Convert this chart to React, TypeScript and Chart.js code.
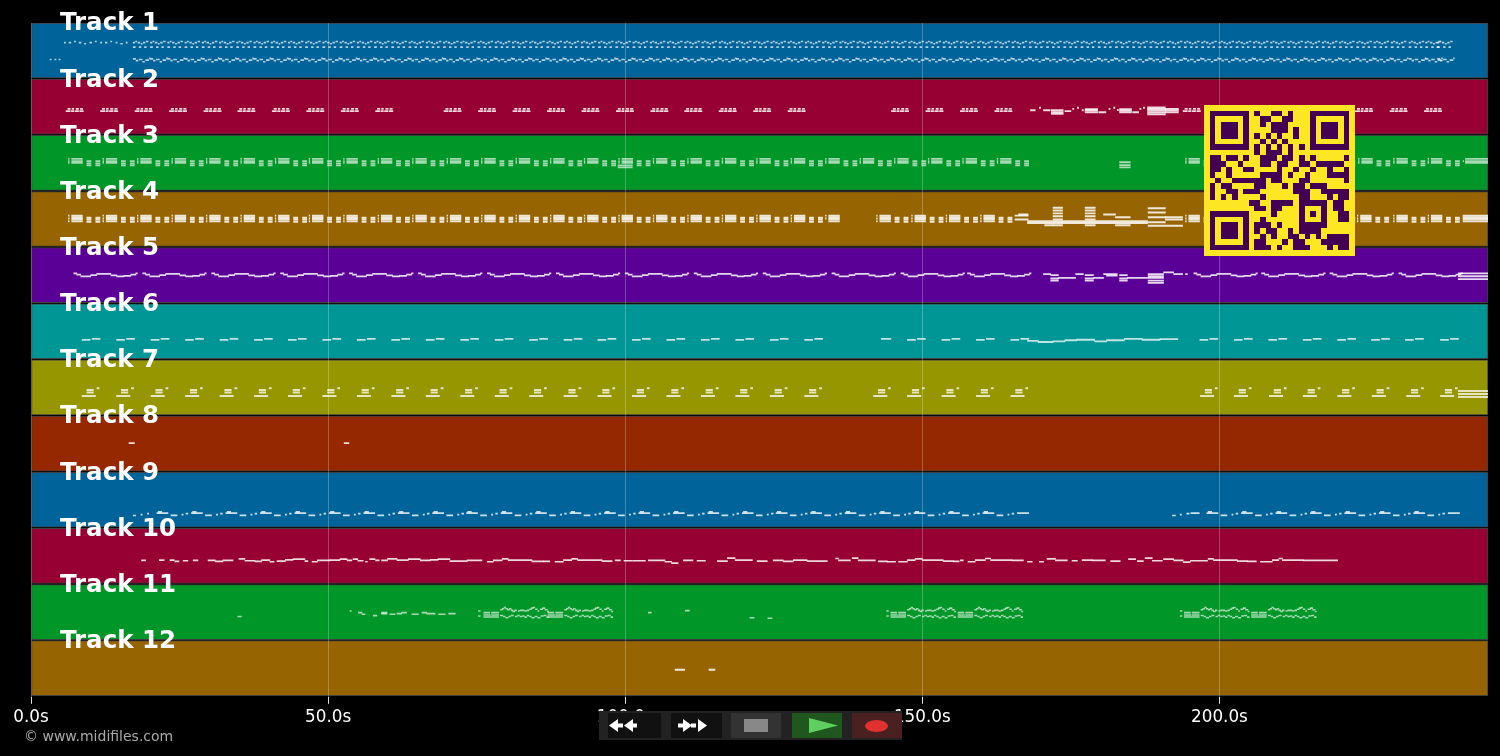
import { useEffect, useRef } from "react";
import { Chart, registerables } from "chart.js";

Chart.register(...registerables);

type Note = number[]; // [start s, end s, height inside the lane]

const trackNames = ["Track 1", "Track 2", "Track 3", "Track 4", "Track 5", "Track 6", "Track 7", "Track 8", "Track 9", "Track 10", "Track 11", "Track 12"];
const trackColors = ["#00649b", "#960032", "#009628", "#966400", "#5a0096", "#009696", "#969600", "#962800", "#00649b", "#960032", "#009628", "#966400"];
const noteAlphas = [0.7, 0.85, 0.65, 0.85, 0.85, 0.75, 0.75, 0.85, 0.8, 0.85, 0.65, 0.85];
const noteThickness = [1, 1.2, 1.2, 1.3, 1.1, 1.2, 1.2, 1.2, 1, 1, 0.9, 1.2];
const timeTicks = [0, 50, 100, 150, 200];
const songEnd = 245.2;

// the song is built from loops, so each track = a loop + where it was played + the odd notes
const track1Starts = [17.2, 20.1, 23.0, 25.9, 28.8, 31.7, 34.6, 37.5, 40.4, 43.3, 46.2, 49.1, 52.0, 54.9, 57.8, 60.7, 63.6, 66.5, 69.4, 72.3, 75.2, 78.1, 81.0, 83.9, 86.8, 89.7, 92.6, 95.5, 98.4, 101.3, 104.2, 107.1, 110.0, 112.9, 115.8, 118.7, 121.6, 124.5, 127.4, 130.3, 133.2, 136.1, 139.0, 141.9, 144.8, 147.7, 150.6, 153.5, 156.4, 159.3, 162.2, 165.1, 168.0, 170.9, 173.8, 176.7, 179.6, 182.5, 185.4, 188.3, 191.2, 194.1, 197.0, 199.9, 202.8, 205.7, 208.6, 211.5, 214.4, 217.3, 220.2, 223.1, 226.0, 228.9, 231.9, 234.7, 236.7];
const track1Loop = [[0, 0.25, 0.35], [0.4, 0.6, 0.33], [0.8, 1.1, 0.35], [1.3, 1.5, 0.37], [1.7, 2.0, 0.35], [2.2, 2.5, 0.33], [0, 0.35, 0.43], [1.0, 1.3, 0.43], [1.9, 2.2, 0.43], [0, 0.4, 0.64], [0.5, 0.8, 0.67], [1.0, 1.5, 0.65], [1.6, 1.9, 0.69], [2.1, 2.6, 0.66], [2.7, 2.85, 0.63]];
const track1Extra = [[3.2, 3.4, 0.65], [4.0, 4.2, 0.65], [4.7, 4.9, 0.65], [5.6, 5.8, 0.35], [6.4, 6.7, 0.35], [7.3, 7.5, 0.33], [8.1, 8.4, 0.35], [9.0, 9.2, 0.37], [9.9, 10.2, 0.35], [10.8, 11.0, 0.33], [11.7, 11.9, 0.35], [12.5, 12.8, 0.35], [13.4, 13.6, 0.33], [14.3, 14.5, 0.35], [15.1, 15.4, 0.37], [16.0, 16.2, 0.35]];

const track2Starts = [5.9, 11.7, 17.5, 23.3, 29.1, 34.8, 40.6, 46.4, 52.2, 58.0, 69.5, 75.3, 81.1, 86.9, 92.7, 98.5, 104.3, 110.0, 115.8, 121.6, 127.4, 144.8, 150.6, 156.4, 162.2, 193.9, 199.7, 205.5, 211.3, 217.1, 222.9, 228.7, 234.5];
const track2Loop = [[0, 0.7, 0.57], [0.3, 0.7, 0.53], [0.9, 1.3, 0.57], [1.0, 1.3, 0.53], [1.5, 2.1, 0.57], [1.7, 2.1, 0.53], [2.3, 2.9, 0.57], [2.4, 2.8, 0.53]];
const track2Extra = [[168.2, 169.0, 0.554], [169.7, 169.9, 0.51], [170.4, 171.5, 0.554], [171.7, 173.7, 0.554], [171.7, 173.7, 0.589], [171.7, 173.7, 0.616], [174.0, 175.0, 0.57], [175.3, 175.5, 0.53], [176.1, 176.3, 0.51], [176.9, 177.1, 0.554], [177.4, 179.5, 0.536], [177.4, 179.5, 0.554], [177.4, 179.5, 0.589], [179.7, 180.9, 0.59], [181.4, 181.6, 0.53], [182.2, 182.4, 0.51], [182.8, 183.0, 0.55], [183.2, 185.2, 0.536], [183.2, 185.2, 0.56], [183.2, 185.2, 0.59], [185.4, 186.4, 0.59], [186.6, 186.8, 0.53], [187.2, 187.4, 0.51], [187.9, 190.9, 0.505], [187.9, 190.9, 0.53], [187.9, 190.9, 0.554], [187.9, 190.9, 0.59], [187.9, 190.9, 0.625], [190.9, 193.1, 0.53], [190.9, 193.1, 0.554], [190.9, 193.1, 0.59]];

const track3Starts = [6.3, 12.1, 17.9, 23.7, 29.5, 35.3, 41.1, 46.8, 52.6, 58.4, 64.2, 70.0, 75.8, 81.6, 87.4, 93.1, 98.9, 104.7, 110.5, 116.3, 122.1, 127.9, 133.7, 139.5, 145.3, 151.0, 156.8, 162.6, 194.3, 200.1, 205.9, 211.7, 217.5, 223.4, 229.3, 235.1];
const track3Loop = [[0, 0.12, 0.42], [0, 0.12, 0.46], [0, 0.12, 0.49], [0.55, 2.35, 0.42], [0.55, 2.35, 0.46], [0.55, 2.35, 0.49], [3.1, 3.8, 0.46], [3.1, 3.8, 0.5], [3.1, 3.8, 0.535], [4.6, 5.3, 0.46], [4.6, 5.3, 0.5], [4.6, 5.3, 0.535]];
const track3Extra = [[98.8, 101.2, 0.535], [98.8, 101.2, 0.57], [183.2, 185.0, 0.48], [183.2, 185.0, 0.53], [183.2, 185.0, 0.57], [241.0, 241.1, 0.46], [241.4, songEnd, 0.42], [241.4, songEnd, 0.46], [241.4, songEnd, 0.49]];

const track4Starts = [6.3, 12.1, 17.9, 23.7, 29.5, 35.3, 41.1, 46.8, 52.6, 58.4, 64.2, 70.0, 75.8, 81.6, 87.4, 93.1, 98.9, 104.7, 110.5, 116.3, 122.1, 127.9, 142.3, 148.2, 154.0, 159.8, 194.3, 200.1, 205.9, 211.7, 217.5, 223.2, 229.3, 235.1];
const track4Loop = [[0, 0.12, 0.43], [0, 0.12, 0.48], [0, 0.12, 0.53], [0.55, 2.35, 0.43], [0.55, 2.35, 0.46], [0.55, 2.35, 0.49], [0.55, 2.35, 0.53], [3.1, 3.8, 0.47], [3.1, 3.8, 0.5], [3.1, 3.8, 0.54], [4.6, 5.3, 0.47], [4.6, 5.3, 0.5], [4.6, 5.3, 0.54]];
const track4Extra = [[133.7, 133.82, 0.43], [133.7, 133.82, 0.48], [134.25, 136.05, 0.43], [134.25, 136.05, 0.46], [134.25, 136.05, 0.49], [134.25, 136.05, 0.53], [165.6, 167.8, 0.43], [165.6, 167.8, 0.5], [166.2, 167.8, 0.41], [167.7, 187.9, 0.53], [167.7, 187.9, 0.56], [172.0, 173.6, 0.29], [172.0, 173.6, 0.34], [172.0, 173.6, 0.39], [172.0, 173.6, 0.44], [172.0, 173.6, 0.5], [172.0, 173.6, 0.6], [170.6, 172.0, 0.6], [177.4, 179.1, 0.29], [177.4, 179.1, 0.34], [177.4, 179.1, 0.39], [177.4, 179.1, 0.44], [177.4, 179.1, 0.5], [177.4, 179.1, 0.6], [180.5, 182.5, 0.41], [182.5, 185.0, 0.46], [182.5, 185.0, 0.6], [188.0, 190.9, 0.3], [188.0, 190.9, 0.375], [188.0, 190.9, 0.46], [188.0, 190.9, 0.55], [188.0, 193.8, 0.61], [190.9, 193.8, 0.46], [190.9, 193.8, 0.5], [241.0, songEnd, 0.43], [241.0, songEnd, 0.46], [241.0, songEnd, 0.49], [241.0, songEnd, 0.53]];

const track5Starts = [7.2, 18.8, 30.4, 42.0, 53.6, 65.2, 76.8, 88.4, 100.0, 111.6, 123.2, 134.8, 146.4, 157.6, 195.7, 207.1, 218.6, 230.2];
const track5Loop = [[0, 0.5, 0.459], [0.5, 1.18, 0.482], [1.18, 2.86, 0.513], [2.86, 3.87, 0.491], [3.87, 6.23, 0.468], [6.23, 7.24, 0.495], [7.24, 8.42, 0.513], [8.42, 9.6, 0.505], [9.6, 10.44, 0.482], [10.44, 10.7, 0.459]];
const track5Extra = [[170.4, 171.6, 0.47], [171.6, 172.9, 0.49], [171.6, 172.9, 0.55], [171.6, 172.9, 0.59], [172.9, 175.8, 0.54], [175.8, 177.1, 0.47], [177.4, 178.8, 0.49], [177.4, 178.8, 0.55], [177.4, 178.8, 0.59], [178.8, 180.5, 0.54], [180.5, 182.8, 0.47], [181.0, 182.8, 0.5], [183.2, 184.5, 0.49], [183.2, 184.5, 0.55], [183.2, 184.5, 0.59], [184.5, 187.9, 0.54], [188.0, 190.6, 0.47], [188.0, 190.6, 0.51], [188.0, 190.6, 0.54], [188.0, 190.6, 0.59], [188.0, 190.6, 0.63], [190.6, 192.3, 0.44], [192.3, 193.8, 0.47], [194.3, 194.6, 0.47], [240.2, songEnd, 0.46], [240.2, songEnd, 0.51], [240.2, songEnd, 0.56]];

const track6Starts = [8.6, 14.4, 20.2, 26.0, 31.8, 37.6, 43.3, 49.1, 54.9, 60.7, 66.5, 72.3, 78.1, 83.9, 89.7, 95.4, 101.2, 107.0, 112.8, 118.6, 124.4, 130.2, 147.5, 153.3, 159.1, 164.9, 196.7, 202.5, 208.3, 214.1, 219.9, 225.6, 231.3, 237.2];
const track6Loop = [[0, 1.35, 0.643], [1.68, 3.03, 0.625]];
const track6Extra = [[143.1, 144.7, 0.625], [167.7, 169.5, 0.66], [169.5, 172.0, 0.68], [172.0, 174.0, 0.67], [174.0, 176.0, 0.65], [176.0, 179.0, 0.64], [179.0, 181.0, 0.67], [181.0, 184.0, 0.65], [184.0, 187.0, 0.625], [187.0, 190.0, 0.64], [190.0, 193.0, 0.63]];

const track7Starts = [8.6, 14.4, 20.2, 26.0, 31.8, 37.6, 43.3, 49.1, 54.9, 60.7, 66.5, 72.3, 78.1, 83.9, 89.7, 95.4, 101.2, 107.0, 112.8, 118.6, 124.4, 130.2, 141.8, 147.5, 153.3, 159.1, 164.9, 196.8, 202.5, 208.4, 214.1, 219.9, 225.7, 231.5, 237.2];
const track7Loop = [[0, 2.25, 0.643], [0.8, 1.9, 0.536], [0.8, 1.9, 0.58], [2.5, 2.85, 0.505]];
const track7Extra = [[240.2, songEnd, 0.554], [240.2, songEnd, 0.607], [240.2, songEnd, 0.66]];

const track8Notes = [[16.5, 17.4, 0.482], [52.7, 53.5, 0.482]];

const track9Starts = [21.2, 27.0, 32.8, 38.6, 44.4, 50.2, 56.0, 61.8, 67.6, 73.3, 79.1, 84.9, 90.7, 96.5, 102.3, 108.1, 113.9, 119.7, 125.4, 131.2, 137.0, 142.8, 148.6, 154.4, 160.2, 197.9, 203.7, 209.5, 215.3, 221.1, 226.9, 232.7];
const track9Loop = [[0, 1.85, 0.727], [0.2, 0.8, 0.705], [2.36, 3.37, 0.768], [4.2, 4.4, 0.755], [4.9, 5.2, 0.737]];
const track9Extra = [[17.2, 17.6, 0.77], [18.5, 18.7, 0.755], [19.6, 19.8, 0.737], [166.0, 167.9, 0.727], [192.1, 192.6, 0.77], [193.4, 193.6, 0.755], [194.5, 194.9, 0.737], [195.2, 196.6, 0.727], [238.5, 240.4, 0.727]];

const track10Notes = [
  [18.6, 19.3, 0.571], [21.6, 22.4, 0.565], [23.4, 24.1, 0.565], [24.2, 24.9, 0.589], [25.6, 26.4, 0.577], [27.3, 28.1, 0.571], [29.8, 31.0, 0.571], [31.0, 32.3, 0.589], [32.3, 34.0, 0.571], [35.0, 36.0, 0.542], [36.0, 37.7, 0.577], [37.7, 38.8, 0.589], [38.8, 40.2, 0.565], [40.2, 40.9, 0.595], [41.4, 42.8, 0.583], [42.8, 44.1, 0.56], [44.1, 46.1, 0.548], [46.1, 46.6, 0.583], [47.3, 48.2, 0.595], [48.2, 50.3, 0.571], [50.3, 52.0, 0.565], [52.0, 53.2, 0.548], [53.2, 54.0, 0.571], [54.2, 55.0, 0.548], [55.0, 55.9, 0.577], [56.3, 56.6, 0.595], [57.0, 57.9, 0.548], [58.0, 58.6, 0.571], [59.0, 60.0, 0.571], [60.0, 61.6, 0.542], [61.6, 63.5, 0.565], [63.5, 65.5, 0.548], [65.5, 67.2, 0.571], [67.2, 68.5, 0.56], [68.5, 70.5, 0.548], [70.5, 73.4, 0.583], [73.4, 75.9, 0.571], [76.8, 77.8, 0.595], [77.8, 79.3, 0.571], [79.3, 80.3, 0.542], [80.3, 84.3, 0.565], [84.3, 86.2, 0.589], [86.2, 87.3, 0.589],
  [88.2, 89.6, 0.595], [89.6, 91.0, 0.565], [91.0, 92.0, 0.542], [92.0, 96.1, 0.565], [96.1, 97.8, 0.583], [98.3, 99.2, 0.571], [99.8, 101.2, 0.577], [101.3, 103.4, 0.577], [103.9, 106.7, 0.571], [106.7, 107.8, 0.595], [107.8, 108.9, 0.62], [109.8, 111.4, 0.571], [112.1, 113.5, 0.577], [115.5, 117.2, 0.583], [117.2, 118.5, 0.53], [118.5, 121.4, 0.565], [122.2, 123.9, 0.583], [124.9, 126.6, 0.571], [126.6, 128.3, 0.589], [128.3, 130.6, 0.565], [130.6, 134.0, 0.583], [135.4, 135.9, 0.536], [135.9, 137.9, 0.571], [138.2, 139.2, 0.53], [139.2, 142.1, 0.571], [142.6, 144.1, 0.589], [144.1, 145.5, 0.595], [146.0, 147.5, 0.595], [147.5, 148.8, 0.565], [148.8, 150.0, 0.542], [150.0, 153.5, 0.565], [153.5, 155.2, 0.583], [155.2, 156.2, 0.589],
  [156.4, 156.9, 0.571], [157.7, 158.9, 0.595], [158.9, 160.6, 0.565], [160.6, 161.5, 0.536], [161.5, 165.1, 0.565], [165.1, 167.0, 0.571], [167.7, 168.5, 0.595], [169.7, 170.4, 0.595], [171.0, 172.4, 0.542], [172.4, 174.4, 0.571], [175.2, 176.1, 0.577], [176.9, 178.6, 0.565], [178.6, 180.8, 0.571], [181.7, 183.3, 0.583], [184.7, 185.9, 0.548], [186.2, 187.2, 0.583], [187.5, 188.7, 0.53], [188.7, 190.4, 0.577], [190.6, 192.3, 0.548], [192.3, 193.9, 0.571], [193.9, 195.1, 0.601], [195.1, 198.0, 0.577], [198.1, 199.0, 0.542], [199.0, 203.0, 0.565], [203.0, 204.7, 0.583], [204.7, 206.2, 0.589], [206.9, 208.9, 0.595], [208.9, 210.0, 0.565], [210.0, 210.6, 0.536], [210.6, 214.1, 0.565], [214.1, 219.9, 0.571],
];

const track11Starts = [76.2, 87.0, 144.7, 156.0, 194.1, 205.4];
const track11Loop = [[0, 1.0, 0.5], [1.3, 2.5, 0.5], [0, 1.1, 0.542], [1.3, 2.5, 0.542], [0, 2.5, 0.577], [2.8, 3.1, 0.45], [3.1, 3.4, 0.43], [3.4, 3.7, 0.41], [3.7, 4.0, 0.43], [4.0, 4.3, 0.45], [4.3, 4.6, 0.43], [4.6, 4.9, 0.46], [4.9, 5.2, 0.48], [5.2, 5.5, 0.46], [5.8, 6.0, 0.47], [6.1, 6.4, 0.46], [6.5, 6.8, 0.46], [6.9, 7.2, 0.47], [7.3, 7.6, 0.46], [7.7, 8.0, 0.44], [8.0, 8.3, 0.42], [8.3, 8.6, 0.41], [8.7, 9.0, 0.44], [9.1, 9.3, 0.47], [9.5, 9.9, 0.44], [9.9, 10.3, 0.42], [10.3, 10.7, 0.45], [10.7, 10.9, 0.48], [2.8, 3.2, 0.55], [3.3, 3.6, 0.57], [3.7, 4.1, 0.59], [4.2, 4.5, 0.57], [4.6, 5.0, 0.55], [5.3, 5.6, 0.57], [5.7, 6.0, 0.55], [6.1, 6.4, 0.57], [6.5, 6.8, 0.56], [6.9, 7.2, 0.58], [7.3, 7.6, 0.55], [7.7, 8.0, 0.57], [8.1, 8.5, 0.59], [8.6, 9.0, 0.57], [9.1, 9.5, 0.59], [9.6, 10.0, 0.56], [10.1, 10.5, 0.55], [10.6, 10.9, 0.58]];
const track11Extra = [[34.8, 35.4, 0.57], [53.7, 53.9, 0.47], [55.1, 55.7, 0.5], [55.7, 56.2, 0.53], [57.6, 58.2, 0.554], [59.0, 59.9, 0.5], [59.0, 59.9, 0.518], [60.4, 61.3, 0.53], [61.6, 62.4, 0.518], [62.4, 63.2, 0.5], [64.1, 65.2, 0.53], [65.8, 66.6, 0.5], [66.6, 68.0, 0.518], [68.6, 69.7, 0.53], [70.3, 71.4, 0.518], [75.3, 75.6, 0.47], [75.3, 75.6, 0.56], [103.9, 104.4, 0.5], [110.1, 110.8, 0.465], [121.0, 121.7, 0.59], [124.0, 124.7, 0.6], [144.0, 144.3, 0.47], [144.0, 144.3, 0.56], [193.4, 193.7, 0.47], [193.4, 193.7, 0.56]];

const track12Notes = [[108.4, 110.0, 0.518], [114.1, 115.1, 0.518]];

const qrRows = [
  "1111111010011010001111111",
  "1000001001100110001000001",
  "1011101001011100001011101",
  "1011101000011101001011101",
  "1011101010101001001011101",
  "1000001001010100001000001",
  "1111111010101010101111111",
  "0000000010111010000000000",
  "1101101001110110101000001",
  "1110010001101100110111110",
  "1101001100001001001001001",
  "1001000001111010010001111",
  "0100111111011000110000001",
  "1011000011000101101110000",
  "1001101110000001110011111",
  "1010100001000000110001011",
  "0000000110011110111110110",
  "0000000011011000100010110",
  "1111111000010000101010011",
  "1000001001000000100010011",
  "1011101011101000111110000",
  "1011101010110010111100000",
  "1011101001010011010101111",
  "1000001011000101100011111",
  "1111111011101001110001011",
];

function loopNotes(starts: number[], loop: Note[]) {
  return starts.flatMap((s) => loop.map((n) => [s + n[0], s + n[1], n[2]]));
}

const trackNotes: Note[][] = [
  [...loopNotes(track1Starts, track1Loop), ...track1Extra],
  [...loopNotes(track2Starts, track2Loop), ...track2Extra],
  [...loopNotes(track3Starts, track3Loop), ...track3Extra],
  [...loopNotes(track4Starts, track4Loop), ...track4Extra],
  [...loopNotes(track5Starts, track5Loop), ...track5Extra],
  [...loopNotes(track6Starts, track6Loop), ...track6Extra],
  [...loopNotes(track7Starts, track7Loop), ...track7Extra],
  track8Notes,
  [...loopNotes(track9Starts, track9Loop), ...track9Extra],
  track10Notes,
  [...loopNotes(track11Starts, track11Loop), ...track11Extra],
  track12Notes,
];

// track names sit on the top edge of each lane
const trackLabels = {
  id: "trackLabels",
  afterDatasetsDraw(chart: Chart) {
    const { ctx, scales } = chart;
    ctx.save();
    ctx.fillStyle = "#fff";
    ctx.font = "bold 24.5px 'DejaVu Sans'";
    ctx.textAlign = "left";
    ctx.textBaseline = "middle";
    trackNames.forEach((name, i) => {
      ctx.fillText(name, scales.x.left + 29, scales.y.getPixelForValue(i) + 1);
    });
    ctx.restore();
  },
};

function Toolbar() {
  return (
    <svg width={1500} height={756} style={{ position: "absolute", left: 0, top: 0, pointerEvents: "none" }}>
      <rect x={599} y={711} width={303} height={29} fill="#222" />
      <rect x={608} y={713} width={53} height={25} fill="#111" />
      <polygon points="609,725.5 618,719 618,732" fill="#fff" />
      <rect x={617} y={723.5} width={6} height={4} fill="#fff" />
      <polygon points="624,725.5 633,719 633,732" fill="#fff" />
      <rect x={632} y={723.5} width={5} height={4} fill="#fff" />
      <rect x={671} y={713} width={51} height={25} fill="#111" />
      <rect x={678} y={723.5} width={5} height={4} fill="#fff" />
      <polygon points="692,725.5 683,719 683,732" fill="#fff" />
      <rect x={691} y={723.5} width={5} height={4} fill="#fff" />
      <polygon points="707,725.5 698,719 698,732" fill="#fff" />
      <rect x={731} y={713} width={50} height={25} fill="#333" />
      <rect x={744} y={719} width={24} height={13} fill="#888" />
      <rect x={792} y={713} width={50} height={25} fill="#1f571f" />
      <polygon points="809,718 838,725.5 809,733" fill="#5fcf5f" />
      <rect x={852} y={713} width={50} height={25} fill="#4a2020" />
      <ellipse cx={876.5} cy={726} rx={11.5} ry={6} fill="#e03030" />
    </svg>
  );
}

function QrCode() {
  return (
    <svg width={151} height={151} viewBox="0 0 27 27" shapeRendering="crispEdges" style={{ position: "absolute", left: 1204, top: 105 }}>
      <rect width={27} height={27} fill="#fde725" />
      {qrRows.map((row, r) =>
        row.split("").map((c, k) => (c === "1" ? <rect key={r + "-" + k} x={k + 1} y={r + 1} width={1} height={1} fill="#440154" /> : null))
      )}
    </svg>
  );
}

export default function App() {
  const canvasRef = useRef<HTMLCanvasElement | null>(null);

  useEffect(() => {
    if (!canvasRef.current) return;

    const noteSets = trackNotes.map((notes, i) => ({
      data: notes.map((n) => ({ x: [n[0], n[1]], y: i + n[2] })),
      backgroundColor: `rgba(255,255,255,${noteAlphas[i]})`,
      borderWidth: 0,
      barThickness: noteThickness[i],
      grouped: false,
    }));

    const chart = new Chart(canvasRef.current, {
      type: "bar",
      data: {
        datasets: [
          ...noteSets,
          {
            data: trackColors.map((c, i) => ({ x: [0, songEnd], y: i + 0.49 })),
            backgroundColor: trackColors,
            borderColor: "rgba(255,255,255,0.25)",
            borderWidth: 1,
            borderSkipped: false,
            barThickness: 55,
            grouped: false,
          },
        ],
      },
      options: {
        indexAxis: "y",
        animation: false,
        responsive: false,
        layout: { padding: { left: 31, top: 23, right: 12, bottom: 24 } },
        plugins: { legend: { display: false }, tooltip: { enabled: false } },
        scales: {
          x: {
            type: "linear",
            min: 0,
            max: songEnd,
            afterBuildTicks: (axis) => {
              axis.ticks = timeTicks.map((value) => ({ value }));
            },
            grid: { color: "rgba(255,255,255,0.25)", z: 1, tickColor: "#ddd", tickLength: 7 },
            border: { display: false },
            ticks: {
              color: "#fff",
              font: { family: "DejaVu Sans", size: 16.8 },
              maxRotation: 0,
              autoSkip: false,
              padding: 4,
              callback: (v) => Number(v).toFixed(1) + "s",
            },
          },
          y: {
            type: "linear",
            display: false,
            offset: false,
            reverse: true,
            min: 0,
            max: 12,
          },
        },
      },
      plugins: [trackLabels],
    });

    return () => chart.destroy();
  }, []);

  return (
    <div style={{ position: "absolute", left: 0, top: 0, width: 1500, height: 756, background: "#000", overflow: "hidden" }}>
      <canvas ref={canvasRef} width={1500} height={756} style={{ display: "block" }} />
      <div style={{ position: "absolute", left: 24, top: 728, fontFamily: "DejaVu Sans", fontSize: 14, color: "#aaa" }}>© www.midifiles.com</div>
      <QrCode />
      <Toolbar />
    </div>
  );
}
